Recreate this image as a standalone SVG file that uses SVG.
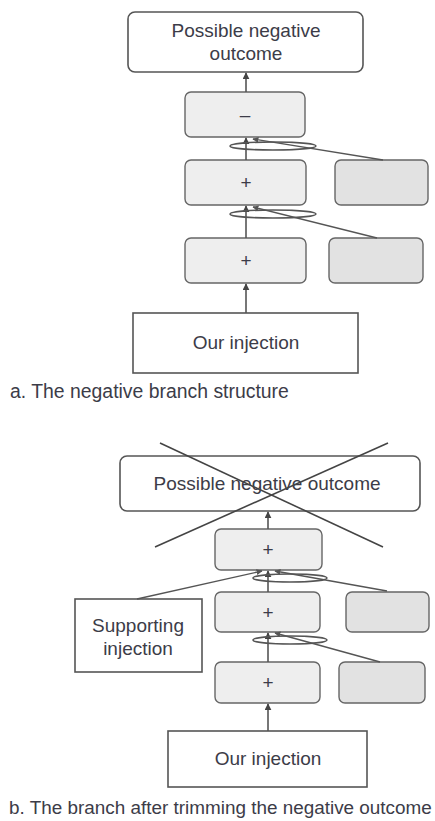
<svg xmlns="http://www.w3.org/2000/svg" width="435" height="821" viewBox="0 0 435 821">
  <defs>
    <marker id="tip" viewBox="0 0 10 10" refX="9" refY="5" markerWidth="7" markerHeight="7" orient="auto-start-reverse" markerUnits="userSpaceOnUse">
      <path d="M0,0 L10,5 L0,10 z" fill="#444"/>
    </marker>
    <marker id="tipSmall" viewBox="0 0 10 10" refX="9" refY="5" markerWidth="6" markerHeight="6" orient="auto" markerUnits="userSpaceOnUse">
      <path d="M0,0 L10,5 L0,10 z" fill="#555"/>
    </marker>
  </defs>
  <style>
    text { font-family: "Liberation Sans", Arial, sans-serif; font-size: 19px; fill: #3c3c48; }
    .caption { font-size: 19.4px; }
    .caption-long { font-size: 18.9px; }
    .mid { text-anchor: middle; }
    .outcome { fill: #ffffff; stroke: #555; stroke-width: 1.6; }
    .step { fill: #eeeeee; stroke: #666; stroke-width: 1.4; }
    .side { fill: #e2e2e2; stroke: #666; stroke-width: 1.4; }
    .inject { fill: #ffffff; stroke: #555; stroke-width: 1.6; }
    .arrow { stroke: #555; stroke-width: 1.6; fill: none; marker-end: url(#tip); }
    .feed { stroke: #555; stroke-width: 1.4; fill: none; marker-end: url(#tipSmall); }
    .loop { stroke: #555; stroke-width: 1.5; fill: none; }
    .cross { stroke: #444; stroke-width: 1.6; }
  </style>
  <rect width="435" height="821" fill="#ffffff"/>

  <!-- Panel a: the negative branch structure -->
  <g id="a-outcome">
    <rect class="outcome" x="128" y="12" width="235" height="60" rx="7"/>
    <text class="mid" x="246" y="37">Possible negative</text>
    <text class="mid" x="246" y="60">outcome</text>
  </g>
  <g id="a-minus">
    <rect class="step" x="185" y="92" width="120" height="45" rx="6"/>
    <text class="mid" x="245" y="121">–</text>
  </g>
  <g id="a-plus-upper">
    <rect class="step" x="185" y="160" width="121" height="45" rx="6"/>
    <text class="mid" x="246" y="189">+</text>
  </g>
  <g id="a-side-upper">
    <rect class="side" x="335" y="160" width="93" height="45" rx="6"/>
  </g>
  <g id="a-plus-lower">
    <rect class="step" x="185" y="238" width="121" height="45" rx="6"/>
    <text class="mid" x="246" y="267">+</text>
  </g>
  <g id="a-side-lower">
    <rect class="side" x="329" y="238" width="94" height="45" rx="6"/>
  </g>
  <g id="a-injection">
    <rect class="inject" x="133" y="313" width="225" height="60"/>
    <text class="mid" x="246" y="349">Our injection</text>
  </g>
  <text id="a-caption" class="caption" x="10" y="398">a. The negative branch structure</text>

  <!-- Panel b: the branch after trimming -->
  <g id="b-outcome">
    <rect class="outcome" x="120" y="456" width="300" height="55" rx="7"/>
    <text class="mid" x="267" y="490">Possible negative outcome</text>
    <line class="cross" x1="160" y1="443" x2="383" y2="547"/>
    <line class="cross" x1="388" y1="443" x2="155" y2="547"/>
  </g>
  <g id="b-plus-top">
    <rect class="step" x="215" y="529" width="107" height="41" rx="6"/>
    <text class="mid" x="268" y="556">+</text>
  </g>
  <g id="b-plus-mid">
    <rect class="step" x="215" y="592" width="105" height="40" rx="6"/>
    <text class="mid" x="268" y="619">+</text>
  </g>
  <g id="b-side-mid">
    <rect class="side" x="346" y="592" width="83" height="40" rx="6"/>
  </g>
  <g id="b-plus-low">
    <rect class="step" x="215" y="662" width="105" height="41" rx="6"/>
    <text class="mid" x="268" y="689">+</text>
  </g>
  <g id="b-side-low">
    <rect class="side" x="339" y="662" width="86" height="41" rx="6"/>
  </g>
  <g id="b-support">
    <rect class="inject" x="75" y="599" width="127" height="73"/>
    <text class="mid" x="138" y="632">Supporting</text>
    <text class="mid" x="138" y="655">injection</text>
  </g>
  <g id="b-injection">
    <rect class="inject" x="168" y="731" width="199" height="56"/>
    <text class="mid" x="268" y="765">Our injection</text>
  </g>
  <text id="b-caption" class="caption-long" x="9" y="814">b. The branch after trimming the negative outcome</text>

  <!-- Connectors -->
  <g id="connectors">
    <line class="arrow" x1="246" y1="92" x2="246" y2="73"/>
    <line class="arrow" x1="246" y1="160" x2="246" y2="138"/>
    <line class="arrow" x1="246" y1="238" x2="246" y2="206"/>
    <line class="arrow" x1="246" y1="313" x2="246" y2="284"/>
    <ellipse class="loop" cx="273" cy="146" rx="43" ry="4"/>
    <line class="feed" x1="383" y1="160" x2="253" y2="139"/>
    <ellipse class="loop" cx="273" cy="214" rx="43" ry="4"/>
    <line class="feed" x1="377" y1="238" x2="253" y2="207"/>

    <line class="arrow" x1="268" y1="529" x2="268" y2="512"/>
    <line class="arrow" x1="268" y1="592" x2="268" y2="571"/>
    <line class="arrow" x1="268" y1="662" x2="268" y2="633"/>
    <line class="arrow" x1="268" y1="731" x2="268" y2="704"/>
    <ellipse class="loop" cx="290" cy="578" rx="37" ry="4"/>
    <line class="feed" x1="387" y1="591" x2="275" y2="571"/>
    <line class="feed" x1="137" y1="599" x2="262" y2="571"/>
    <ellipse class="loop" cx="290" cy="640" rx="37" ry="4"/>
    <line class="feed" x1="380" y1="662" x2="275" y2="633"/>
  </g>
</svg>
